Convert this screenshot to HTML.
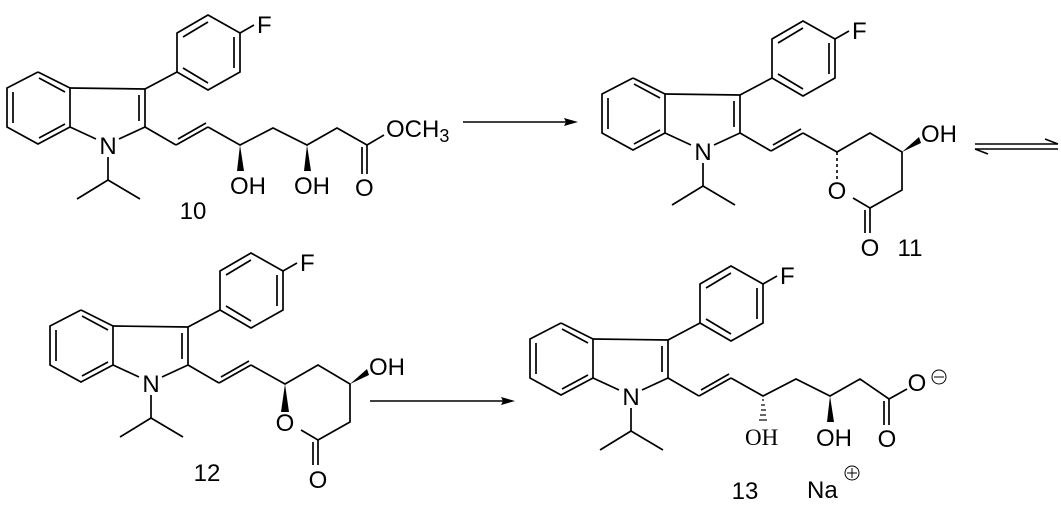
<!DOCTYPE html>
<html><head><style>
html,body{margin:0;padding:0;background:#fff;}
svg{display:block;}
text{font-family:"Liberation Sans",sans-serif;font-size:24px;fill:#000;}
.t{font-family:"Liberation Serif",serif;font-size:23px;}
</style></head><body>
<svg width="1061" height="505" viewBox="0 0 1061 505" xmlns="http://www.w3.org/2000/svg">
<defs>
<g id="core" stroke="#000" stroke-width="1.7" fill="none">
  <polyline points="38,72 70,88 70,127 38,144 7,127 7,88 38,72"/>
  <line x1="39" y1="78" x2="65" y2="92"/>
  <line x1="13" y1="92" x2="13" y2="123"/>
  <line x1="39" y1="138" x2="65" y2="124"/>
  <line x1="70" y1="88" x2="145" y2="89"/>
  <line x1="145" y1="89" x2="145" y2="127"/>
  <line x1="139" y1="95" x2="139" y2="121"/>
  <line x1="145" y1="127" x2="119" y2="139"/>
  <line x1="70" y1="127" x2="96" y2="139"/>
  <line x1="108" y1="157" x2="108" y2="180"/>
  <line x1="108" y1="180" x2="77" y2="199"/>
  <line x1="108" y1="180" x2="140" y2="199"/>
  <line x1="145" y1="89" x2="177" y2="72"/>
  <polyline points="177,72 177,33 208,15 240,33 240,72 208,90 177,72"/>
  <line x1="183" y1="37" x2="208" y2="22"/>
  <line x1="234" y1="37" x2="234" y2="68"/>
  <line x1="183" y1="68" x2="208" y2="83"/>
  <line x1="240" y1="33" x2="254" y2="25"/>
  <line x1="145" y1="127" x2="176" y2="145"/>
  <line x1="176" y1="145" x2="208" y2="127"/>
  <line x1="178" y1="139" x2="206" y2="123"/>
</g>
<g id="chain" stroke="#000" stroke-width="1.7" fill="none">
  <polyline points="208,127 240,145 273,128 307,145 337,128 367,145 384,135"/>
  <line x1="367" y1="145" x2="367" y2="174"/>
  <line x1="362" y1="147" x2="362" y2="174"/>
</g>
<g id="lactone" stroke="#000" stroke-width="1.7" fill="none">
  <polyline points="208,127 242,146 275,127 307,146 307,184 275,202 258,192"/>
  <line x1="275" y1="202" x2="275" y2="227"/>
  <line x1="270" y1="204" x2="270" y2="227"/>
</g>
</defs>

<!-- Compound 10 -->
<use href="#core"/>
<use href="#chain"/>
<polygon points="240,145 237,171 244,171" fill="#000"/>
<polygon points="307,145 304,171 311,171" fill="#000"/>
<text x="108" y="154" text-anchor="middle">N</text>
<text x="257" y="33">F</text>
<text x="230" y="194">OH</text>
<text x="294" y="194">OH</text>
<text x="355" y="196">O</text>
<text x="386" y="137">OCH<tspan font-size="18" dy="5">3</tspan></text>
<text x="193" y="219" text-anchor="middle">10</text>

<line x1="463" y1="122" x2="566" y2="122" stroke="#000" stroke-width="1.6"/>
<polygon points="578,122 564,118 566,122 564,126" fill="#000"/>

<!-- Compound 11 -->
<g transform="translate(595,6)">
  <use href="#core"/>
  <use href="#lactone"/>
  <line x1="242" y1="146" x2="242" y2="174" stroke="#000" stroke-width="1.6" stroke-dasharray="3,3"/>
  <polygon points="307,146 324,131 326,137" fill="#000"/>
  <text x="108" y="154" text-anchor="middle">N</text>
  <text x="257" y="33">F</text>
  <text x="242" y="193" text-anchor="middle">O</text>
  <text x="326" y="136">OH</text>
  <text x="275" y="250" text-anchor="middle">O</text>
</g>
<text x="910" y="256" text-anchor="middle">11</text>

<g stroke="#000" stroke-width="1.6" fill="none">
  <line x1="975" y1="144" x2="1058" y2="144"/>
  <polyline points="1058,144 1045,139"/>
  <line x1="975" y1="149" x2="1058" y2="149"/>
  <polyline points="975,149 988,154"/>
</g>

<!-- Compound 12 -->
<g transform="translate(43,238)">
  <use href="#core"/>
  <use href="#lactone"/>
  <polygon points="242,146 238,174 246,174" fill="#000"/>
  <polygon points="307,146 324,131 326,137" fill="#000"/>
  <text x="108" y="154" text-anchor="middle">N</text>
  <text x="257" y="33">F</text>
  <text x="242" y="193" text-anchor="middle">O</text>
  <text x="326" y="137">OH</text>
  <text x="275" y="250" text-anchor="middle">O</text>
</g>
<text x="207" y="481" text-anchor="middle">12</text>

<line x1="370" y1="401" x2="504" y2="401" stroke="#000" stroke-width="1.6"/>
<polygon points="515,401 501,397 503,401 501,405" fill="#000"/>

<!-- Compound 13 -->
<g transform="translate(523,251)">
  <use href="#core"/>
  <g stroke="#000" stroke-width="1.7" fill="none">
    <polyline points="208,127 240,145 273,128 307,145 337,128 366,148 384,138"/>
    <line x1="366" y1="148" x2="366" y2="174"/>
    <line x1="361" y1="150" x2="361" y2="174"/>
    <g stroke-width="1.2">
      <line x1="239" y1="149" x2="241" y2="149"/>
      <line x1="238" y1="154" x2="242" y2="154"/>
      <line x1="238" y1="159" x2="243" y2="159"/>
      <line x1="237" y1="164" x2="243" y2="164"/>
      <line x1="236" y1="169" x2="244" y2="169"/>
    </g>
  </g>
  <polygon points="307,145 304,171 311,171" fill="#000"/>
  <text x="108" y="154" text-anchor="middle">N</text>
  <text x="257" y="33">F</text>
  <text class="t" x="222" y="194">OH</text>
  <text x="293" y="195">OH</text>
  <text x="364" y="196" text-anchor="middle">O</text>
  <text x="394" y="140" text-anchor="middle">O</text>
  <circle cx="416" cy="126" r="7" fill="none" stroke="#000" stroke-width="1"/>
  <line x1="411" y1="126" x2="421" y2="126" stroke="#000" stroke-width="1"/>
</g>
<text x="745" y="499" text-anchor="middle">13</text>
<text x="807" y="498">Na</text>
<circle cx="852" cy="473" r="7" fill="none" stroke="#000" stroke-width="1"/>
<line x1="847" y1="473" x2="857" y2="473" stroke="#000" stroke-width="1"/>
<line x1="852" y1="468" x2="852" y2="478" stroke="#000" stroke-width="1"/>
</svg>
</body></html>
